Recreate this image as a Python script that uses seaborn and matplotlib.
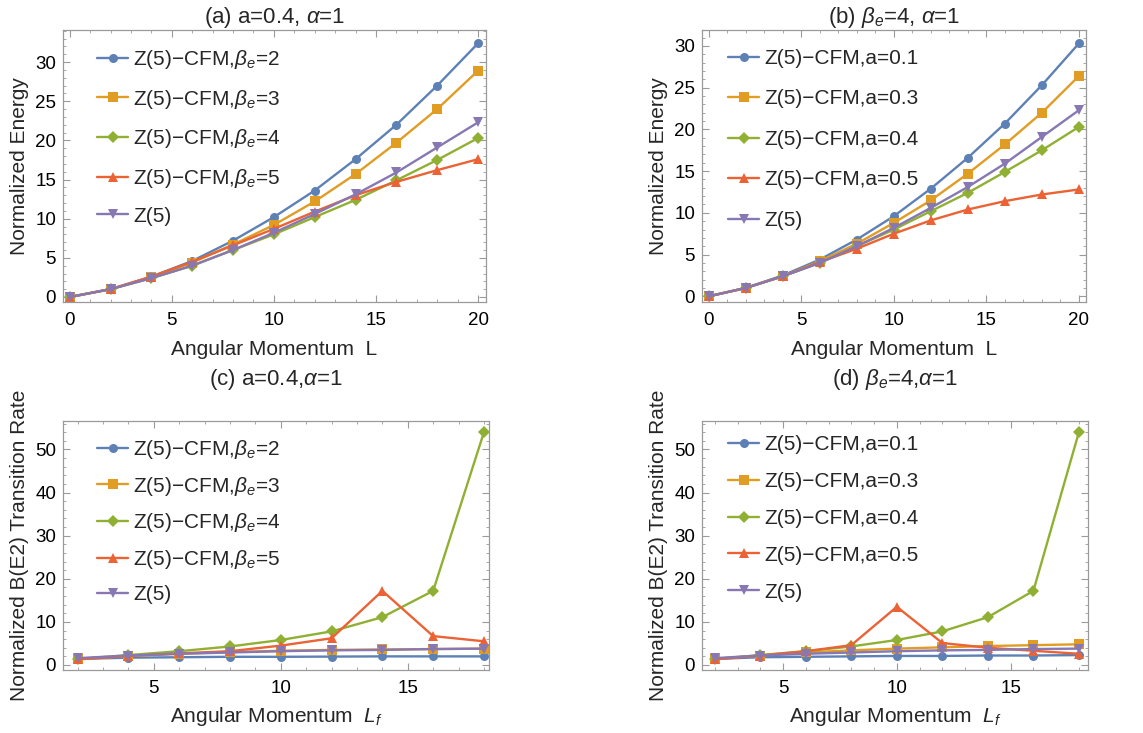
import matplotlib
matplotlib.use("Agg")
import matplotlib.pyplot as plt
from matplotlib.ticker import MultipleLocator
import numpy as np
import pandas as pd
import seaborn as sns

# ---------------- data ----------------
L = [0, 2, 4, 6, 8, 10, 12, 14, 16, 18, 20]
Lf = [2, 4, 6, 8, 10, 12, 14, 16, 18]

# (a) energies, a=0.4, alpha=1
E_be2 = [0, 1.0, 2.6, 4.6, 7.2, 10.2, 13.6, 17.6, 22.0, 27.0, 32.4]
E_be3 = [0, 1.0, 2.5, 4.4, 6.7, 9.2, 12.2, 15.7, 19.7, 24.0, 28.9]
E_be4 = [0, 1.0, 2.4, 4.0, 6.0, 8.0, 10.2, 12.4, 14.9, 17.5, 20.3]
E_be5 = [0, 1.0, 2.6, 4.5, 6.6, 8.7, 10.9, 13.0, 14.7, 16.2, 17.6]
E_z5 = [0, 1.0, 2.4, 4.0, 6.0, 8.2, 10.6, 13.1, 15.9, 19.1, 22.3]

# (b) energies, beta_e=4, alpha=1
E_a01 = [0, 1.0, 2.5, 4.4, 6.8, 9.6, 12.9, 16.6, 20.7, 25.3, 30.3]
E_a03 = [0, 1.0, 2.4, 4.2, 6.3, 8.8, 11.5, 14.7, 18.2, 22.0, 26.4]
E_a04 = E_be4
E_a05 = [0, 1.0, 2.4, 4.1, 5.7, 7.5, 9.1, 10.4, 11.4, 12.2, 12.8]

# (c) B(E2), a=0.4, alpha=1
B_be2 = [1.4, 1.7, 1.8, 1.9, 1.9, 1.95, 2.0, 2.0, 2.0]
B_be3 = [1.4, 2.1, 2.6, 3.0, 3.3, 3.5, 3.6, 3.7, 3.8]
B_be4 = [1.4, 2.3, 3.2, 4.3, 5.8, 7.8, 11.1, 17.2, 54.0]
B_be5 = [1.3, 2.1, 2.7, 3.2, 4.5, 6.2, 17.2, 6.7, 5.5]
B_z5 = [1.59, 2.2, 2.6, 2.9, 3.2, 3.4, 3.5, 3.7, 3.8]

# (d) B(E2), beta_e=4, alpha=1
B_a01 = [1.4, 1.8, 1.9, 2.0, 2.1, 2.1, 2.2, 2.2, 2.3]
B_a03 = [1.4, 2.2, 2.9, 3.4, 3.8, 4.1, 4.4, 4.6, 4.8]
B_a04 = B_be4
B_a05 = [1.3, 2.2, 3.2, 4.6, 13.5, 5.1, 4.0, 3.3, 2.6]

labels_be = ["Z(5)\u2212CFM,$\\beta_e$=2", "Z(5)\u2212CFM,$\\beta_e$=3",
             "Z(5)\u2212CFM,$\\beta_e$=4", "Z(5)\u2212CFM,$\\beta_e$=5", "Z(5)"]
labels_a = ["Z(5)\u2212CFM,a=0.1", "Z(5)\u2212CFM,a=0.3",
            "Z(5)\u2212CFM,a=0.4", "Z(5)\u2212CFM,a=0.5", "Z(5)"]

colors = ["#5E81B5", "#E19C24", "#8FB032", "#EB6235", "#8778B3"]
marks = ["o", "s", "D", "^", "v"]
msizes = [6.5, 6.5, 6, 7.5, 7.5]

# ---------------- style ----------------
sns.set_theme(style="ticks")
plt.rcParams["font.family"] = ["Liberation Sans", "DejaVu Sans"]
plt.rcParams["mathtext.fontset"] = "custom"
plt.rcParams["mathtext.rm"] = "Liberation Sans"
plt.rcParams["mathtext.it"] = "Liberation Sans:italic"
plt.rcParams["mathtext.bf"] = "Liberation Sans:bold"

W, H = 1143, 733
fig = plt.figure(figsize=(W / 100, H / 100), dpi=100)


def rect(l, r, t, b):
    return [l / W, 1 - b / H, (r - l) / W, (b - t) / H]


def panel(ax, x, series, labels, xlim, ylim, ymaj, ymin, xlabel, ylabel,
          title, tpad, leg_xy, lspace, xlpad):
    rows = []
    for lab, vals in zip(labels, series):
        for xi, yi in zip(x, vals):
            rows.append({"x": xi, "y": yi, "s": lab})
    df = pd.DataFrame(rows)
    sns.lineplot(data=df, x="x", y="y", hue="s", style="s",
                 hue_order=labels, style_order=labels,
                 palette=dict(zip(labels, colors)),
                 markers=dict(zip(labels, marks)), dashes=False,
                 linewidth=1.7, markersize=6.5, markeredgewidth=0,
                 errorbar=None, sort=False, legend=False, ax=ax)
    for ln, ms in zip(ax.lines, msizes):
        ln.set_markersize(ms)
    ax.set_xlim(*xlim)
    ax.set_ylim(*ylim)
    ax.xaxis.set_major_locator(MultipleLocator(5))
    ax.xaxis.set_minor_locator(MultipleLocator(1))
    ax.yaxis.set_major_locator(MultipleLocator(ymaj))
    ax.yaxis.set_minor_locator(MultipleLocator(ymin))
    ax.tick_params(which="both", direction="in", top=True, right=True,
                   color="#9a9a9a", labelsize=13.5, labelcolor="black")
    ax.tick_params(which="major", length=5, width=0.8, pad=5)
    ax.tick_params(axis="x", which="major", pad=7)
    ax.tick_params(which="minor", length=2.5, width=0.6)
    for sp in ax.spines.values():
        sp.set_color("#9a9a9a")
        sp.set_linewidth(0.9)
    ax.set_xlabel(xlabel, fontsize=15, labelpad=xlpad)
    ax.set_ylabel(ylabel, fontsize=15, labelpad=4)
    ax.set_title(title, fontsize=16, pad=tpad)
    ax.legend(ax.lines[:5], labels, loc="upper left", bbox_to_anchor=leg_xy,
              frameon=False, fontsize=15, labelspacing=lspace,
              handlelength=1.5, handletextpad=0.25, borderpad=0,
              borderaxespad=0)


axa = fig.add_axes(rect(63, 486, 30, 302))
panel(axa, L, [E_be2, E_be3, E_be4, E_be5, E_z5], labels_be,
      (-0.33, 20.39), (-0.64, 34.1), 5, 1,
      "Angular Momentum  L", "Normalized Energy",
      "(a) a=0.4, $\\alpha$=1", 3, (34 / 423, 1 - 18 / 272), 0.8, 8)

axb = fig.add_axes(rect(702, 1086, 30, 302))
panel(axb, L, [E_a01, E_a03, E_a04, E_a05, E_z5], labels_a,
      (-0.36, 20.38), (-0.68, 31.9), 5, 1,
      "Angular Momentum  L", "Normalized Energy",
      "(b) $\\beta_e$=4, $\\alpha$=1", 3, (26 / 384, 1 - 19 / 272), 1.03, 8)

axc = fig.add_axes(rect(63, 489, 421, 670))
panel(axc, Lf, [B_be2, B_be3, B_be4, B_be5, B_z5], labels_be,
      (1.42, 18.2), (-1.16, 56.6), 10, 2,
      "Angular Momentum  $L_f$", "Normalized B(E2) Transition Rate",
      "(c) a=0.4,$\\alpha$=1", 26, (34 / 426, 1 - 17 / 249), 0.66, 6)

axd = fig.add_axes(rect(702, 1088, 421, 670))
panel(axd, Lf, [B_a01, B_a03, B_a04, B_a05, B_z5], labels_a,
      (1.44, 18.4), (-1.16, 56.6), 10, 2,
      "Angular Momentum  $L_f$", "Normalized B(E2) Transition Rate",
      "(d) $\\beta_e$=4,$\\alpha$=1", 26, (26 / 386, 1 - 14 / 249), 0.86, 6)

fig.savefig("out.png", dpi=100)
